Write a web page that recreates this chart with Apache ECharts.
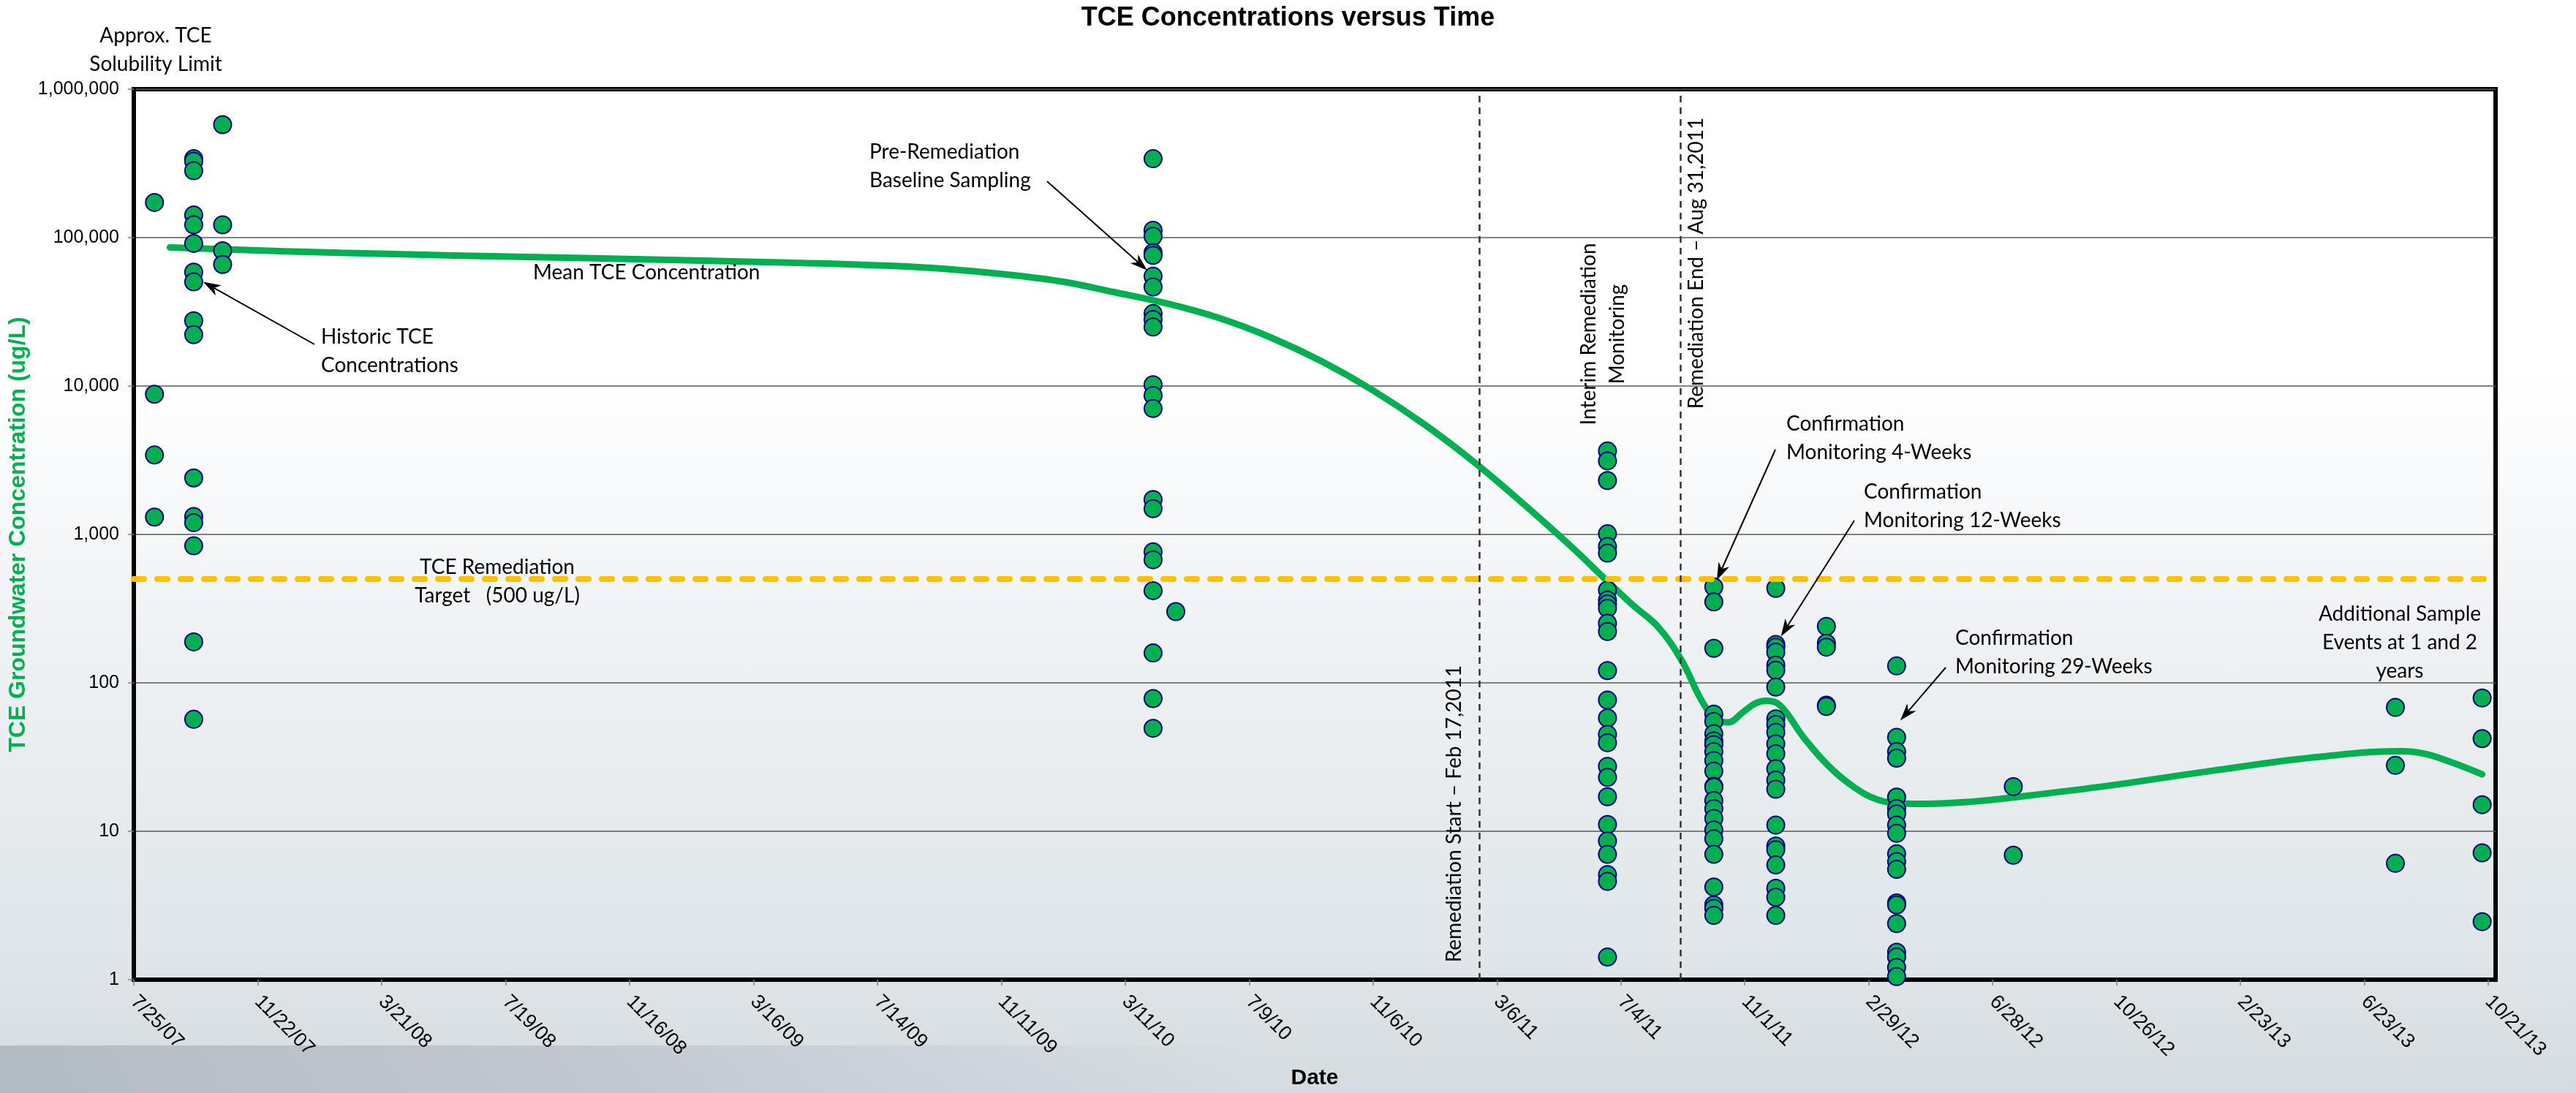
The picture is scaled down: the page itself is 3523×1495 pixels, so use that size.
<!DOCTYPE html>
<html>
<head>
<meta charset="utf-8">
<title>TCE Concentrations versus Time</title>
<script src="https://cdn.jsdelivr.net/npm/echarts@6/dist/echarts.min.js"></script>
<style>
  html, body { margin: 0; padding: 0; }
  body {
    width: 3523px; height: 1495px; overflow: hidden; position: relative;
    background: linear-gradient(to bottom, #ffffff 0%, #ffffff 34%, #eef1f4 60%, #dfe5e9 88%, #d4dce1 100%);
  }
  #band {
    position: absolute; left: 0; top: 1430px; width: 1700px; height: 65px;
    background: linear-gradient(to right, rgba(172,182,189,0.85) 0%, rgba(182,191,198,0.7) 45%, rgba(205,213,218,0) 100%);
  }
  #chart { position: absolute; left: 0; top: 0; width: 3523px; height: 1495px; }
</style>
</head>
<body>
<div id="band"></div>
<div id="chart"></div>
<script>
// ---------- time base: x values are days since the first axis tick (7/25/07) ----------
const EPOCH = Date.UTC(2007, 6, 25);
const DAY_MS = 86400000;
function dayOf(s) {
  const p = s.split('-').map(Number);
  return Math.round((Date.UTC(p[0], p[1] - 1, p[2]) - EPOCH) / DAY_MS);
}

// ---------- axis ticks ----------
const xTickLabels = ['7/25/07', '11/22/07', '3/21/08', '7/19/08', '11/16/08', '3/16/09', '7/14/09',
  '11/11/09', '3/11/10', '7/9/10', '11/6/10', '3/6/11', '7/4/11', '11/1/11', '2/29/12', '6/28/12',
  '10/26/12', '2/23/13', '6/23/13', '10/21/13'];
const xTickStepDays = 120;
const xAxisEnd = '2013-10-28';
const yTickLabels = ['1', '10', '100', '1,000', '10,000', '100,000', '1,000,000'];

// ---------- reference dates / limits ----------
const remediationTarget = 500;            // ug/L
const remediationStart = '2011-02-17';
const remediationEnd = '2011-08-31';

// ---------- TCE results (ug/L) by sampling event ----------
const tceAug2007 = [172500, 8800, 3430, 1310];
const tceSep2007 = [340000, 327000, 282000, 142000, 122000, 91400, 58500, 50300, 27500, 22200,
  2400, 1320, 1200, 838, 189, 56.8];
const tceOct2007 = [577000, 122000, 81600, 65900];
const tceApr2010 = [340000, 112000, 102000, 79000, 76000, 54900, 46500, 30800, 28100, 25000,
  10200, 8640, 7050, 1720, 1490, 763, 675, 418, 159, 78.3, 49.4];
const tceApr2010b = [302];
const tceJun2011 = [3650, 3130, 2310, 1010, 830, 748, 421, 361, 340, 318, 252, 222, 121, 76.5,
  58, 45, 39.5, 27.4, 23.1, 17.1, 11.1, 8.6, 7.0, 5.1, 4.6, 1.42];
const tceOct2011 = [443, 351, 171, 61.5, 55, 45.4, 40.6, 38.4, 34.4, 30, 25.4, 20.1, 19.8, 16.1,
  14.2, 12.2, 10.2, 8.9, 7.0, 4.21, 3.19, 3.02, 2.71];
const tceDec2011 = [433, 181.6, 174, 161, 131.8, 121.6, 93.7, 57.2, 52.4, 46.4, 38.8, 33.3, 26.4,
  22.1, 19.2, 11.0, 7.95, 7.5, 5.93, 4.13, 3.59, 2.71];
const tceJan2012 = [240, 185, 174, 70.7, 69.3];
const tceMar2012 = [130, 42.9, 34.4, 31.1, 17.0, 14.2, 13.1, 11.0, 9.7, 7.05, 6.25, 5.54, 3.29,
  3.19, 2.39, 1.53, 1.42, 1.21, 1.05];
const tceJul2012 = [20.0, 6.9];
const tceJul2013 = [68.3, 27.8, 6.08];
const tceOct2013 = [79.1, 42.1, 15.1, 7.16, 2.46];

const eventDates = ['2007-08-14', '2007-09-21', '2007-10-19', '2010-04-07', '2010-04-29',
  '2011-06-21', '2011-10-02', '2011-12-01', '2012-01-19', '2012-03-27', '2012-07-18',
  '2013-07-23', '2013-10-15'];
const eventValues = [tceAug2007, tceSep2007, tceOct2007, tceApr2010, tceApr2010b, tceJun2011,
  tceOct2011, tceDec2011, tceJan2012, tceMar2012, tceJul2012, tceJul2013, tceOct2013];

// ---------- mean TCE concentration trend ----------
const meanDates = ['2007-08-29', '2008-02-10', '2008-10-04', '2009-05-04', '2009-08-26',
  '2009-11-01', '2010-01-07', '2010-03-01', '2010-04-20', '2010-06-09', '2010-07-29',
  '2010-09-17', '2010-11-06', '2010-12-26', '2011-02-14', '2011-04-05', '2011-05-18',
  '2011-06-22', '2011-07-16', '2011-08-09', '2011-09-01', '2011-09-17', '2011-09-27',
  '2011-10-06', '2011-10-16', '2011-10-30', '2011-11-11', '2011-11-22', '2011-12-05',
  '2011-12-28', '2012-01-21', '2012-02-14', '2012-03-08', '2012-04-01', '2012-04-25',
  '2012-06-11', '2012-07-18', '2012-10-21', '2013-01-27', '2013-05-06', '2013-07-28',
  '2013-08-20', '2013-09-15', '2013-10-15'];
const meanValues = [85800, 79000, 72700, 67400, 63000, 57800, 50800, 42820, 36050, 28870, 21380,
  14690, 9340, 5495, 2990, 1511, 815, 476, 332, 238, 141, 83.4, 64, 55.1, 54.2, 63.3, 72.6,
  75.7, 70.7, 42.9, 27.6, 20, 16.4, 15.4, 15.3, 15.9, 16.9, 20.4, 25.6, 31.5, 34.6, 33.3, 29.2,
  24.2];

// ---------- build series data ----------
const samplePoints = [];
eventDates.forEach((d, i) => {
  eventValues[i].forEach(v => samplePoints.push([dayOf(d), v]));
});
const meanLine = meanDates.map((d, i) => [dayOf(d), meanValues[i]]);

const TEXT_FONT = 'Lato';
const AXIS_FONT = 'Liberation Sans';

const chart = echarts.init(document.getElementById('chart'), null, { renderer: 'canvas' });

chart.setOption({
  animation: false,
  backgroundColor: 'transparent',
  title: {
    text: 'TCE Concentrations versus Time',
    left: 'center', top: 7, padding: 0,
    textStyle: { fontFamily: AXIS_FONT, fontWeight: 'bold', fontSize: 36, color: '#000' }
  },
  grid: {
    left: 183, right: 110, top: 122, bottom: 154,
    show: true, borderColor: '#000', borderWidth: 6, backgroundColor: 'transparent'
  },
  xAxis: {
    type: 'value', min: 0, max: dayOf(xAxisEnd), interval: xTickStepDays,
    name: 'Date', nameLocation: 'middle', nameGap: 120,
    nameTextStyle: { fontFamily: AXIS_FONT, fontWeight: 'bold', fontSize: 30, color: '#000' },
    axisLine: { show: true, onZero: false, lineStyle: { color: '#000', width: 6 } },
    axisTick: { show: true, length: 8, lineStyle: { color: '#7f7f7f', width: 1.5 } },
    splitLine: { show: false },
    axisLabel: {
      rotate: -45, margin: 26, fontSize: 27, fontFamily: AXIS_FONT, color: '#000',
      showMinLabel: true, showMaxLabel: false,
      formatter: v => (v % xTickStepDays === 0 ? (xTickLabels[v / xTickStepDays] || '') : '')
    }
  },
  yAxis: {
    type: 'log', logBase: 10, min: 1, max: 1000000,
    name: 'TCE Groundwater Concentration (ug/L)', nameLocation: 'middle', nameGap: 133,
    nameRotate: 90,
    nameTextStyle: { fontFamily: AXIS_FONT, fontWeight: 'bold', fontSize: 32, color: '#00B050' },
    axisLine: { show: true, lineStyle: { color: '#000', width: 6 } },
    axisTick: { show: true, length: 8, lineStyle: { color: '#7f7f7f', width: 1.5 } },
    splitLine: { show: true, lineStyle: { color: '#595959', width: 1.5 } },
    axisLabel: {
      margin: 20, fontSize: 25, fontFamily: AXIS_FONT, color: '#000',
      formatter: v => yTickLabels[Math.round(Math.log10(v))]
    }
  },
  series: [
    {
      type: 'line', name: 'Mean TCE Concentration', data: meanLine,
      smooth: 0.4, symbol: 'none', showSymbol: false, z: 2,
      lineStyle: { color: '#00B050', width: 9, cap: 'round' },
      markLine: {
        silent: true, symbol: 'none', animation: false, label: { show: false },
        data: [
          { yAxis: remediationTarget, lineStyle: { color: '#FFC000', width: 8, type: [14, 18], cap: 'round' } },
          { xAxis: dayOf(remediationStart), lineStyle: { color: '#333', width: 2.5, type: [9, 7] } },
          { xAxis: dayOf(remediationEnd), lineStyle: { color: '#333', width: 2.5, type: [9, 7] } }
        ]
      }
    },
    {
      type: 'scatter', name: 'TCE Results', data: samplePoints, symbolSize: 24, z: 4,
      itemStyle: { color: '#00B050', borderColor: '#000080', borderWidth: 2, opacity: 1 }
    }
  ]
});

// ---------- annotations ----------
function toPx(date, value) {
  return chart.convertToPixel({ gridIndex: 0 }, [dayOf(date), value]);
}

function textEl(text, x, y, align, rotate) {
  return {
    type: 'text', x: x, y: y, rotation: rotate ? Math.PI / 2 : 0, silent: true, z: 20,
    style: {
      text: text, x: 0, y: 0, fill: '#000', font: '28px ' + TEXT_FONT,
      fontSize: 28, fontFamily: TEXT_FONT, lineHeight: 39,
      align: align, textAlign: align, verticalAlign: 'middle', textVerticalAlign: 'middle'
    }
  };
}

function arrowEls(tail, tip) {
  const dx = tip[0] - tail[0], dy = tip[1] - tail[1];
  const L = Math.hypot(dx, dy), ux = dx / L, uy = dy / L, nx = -uy, ny = ux;
  const headLen = 24, headHalf = 8, notch = 17;
  const base = [tip[0] - ux * headLen, tip[1] - uy * headLen];
  const notchPt = [tip[0] - ux * notch, tip[1] - uy * notch];
  return [
    { type: 'line', silent: true, z: 20,
      shape: { x1: tail[0], y1: tail[1], x2: notchPt[0], y2: notchPt[1] },
      style: { stroke: '#000', lineWidth: 2 } },
    { type: 'polygon', silent: true, z: 20,
      shape: { points: [tip, [base[0] + nx * headHalf, base[1] + ny * headHalf], notchPt,
        [base[0] - nx * headHalf, base[1] - ny * headHalf]] },
      style: { fill: '#000' } }
  ];
}

const startPx = toPx(remediationStart, 10);
const endPx = toPx(remediationEnd, 10);

const notes = [
  textEl('Approx. TCE\nSolubility Limit', 213, 68, 'center'),
  textEl('Historic TCE\nConcentrations', 439, 480, 'left'),
  textEl('Mean TCE Concentration', 729, 373, 'left'),
  textEl('Pre-Remediation\nBaseline Sampling', 1189, 227, 'left'),
  textEl('TCE Remediation\nTarget   (500 ug/L)', 680, 795, 'center'),
  textEl('Interim Remediation\nMonitoring', 2192, 457, 'center', true),
  textEl('Remediation Start \u2013 Feb 17,2011', startPx[0] - 34, 1113, 'center', true),
  textEl('Remediation End \u2013 Aug 31,2011', endPx[0] + 21, 360, 'center', true),
  textEl('Confirmation\nMonitoring 4-Weeks', 2443, 599, 'left'),
  textEl('Confirmation\nMonitoring 12-Weeks', 2549, 692, 'left'),
  textEl('Confirmation\nMonitoring 29-Weeks', 2674, 892, 'left'),
  textEl('Additional Sample\nEvents at 1 and 2\nyears', 3282, 879, 'center')
];

const arrows = [
  { tail: [430, 471], date: eventDates[1], value: tceSep2007[7], off: [13, 0] },
  { tail: [1432, 248], date: eventDates[3], value: tceApr2010[5], off: [-8, -8] },
  { tail: [2428, 615], date: eventDates[6], value: tceOct2011[0], off: [4, -9] },
  { tail: [2536, 712], date: eventDates[7], value: tceDec2011[1], off: [7, -11] },
  { tail: [2661, 913], date: eventDates[9], value: tceMar2012[1], off: [5, -23] }
];
let arrowGraphics = [];
arrows.forEach(a => {
  const c = toPx(a.date, a.value);
  arrowGraphics = arrowGraphics.concat(arrowEls(a.tail, [c[0] + a.off[0], c[1] + a.off[1]]));
});

chart.setOption({ graphic: notes.concat(arrowGraphics) });
</script>
</body>
</html>
